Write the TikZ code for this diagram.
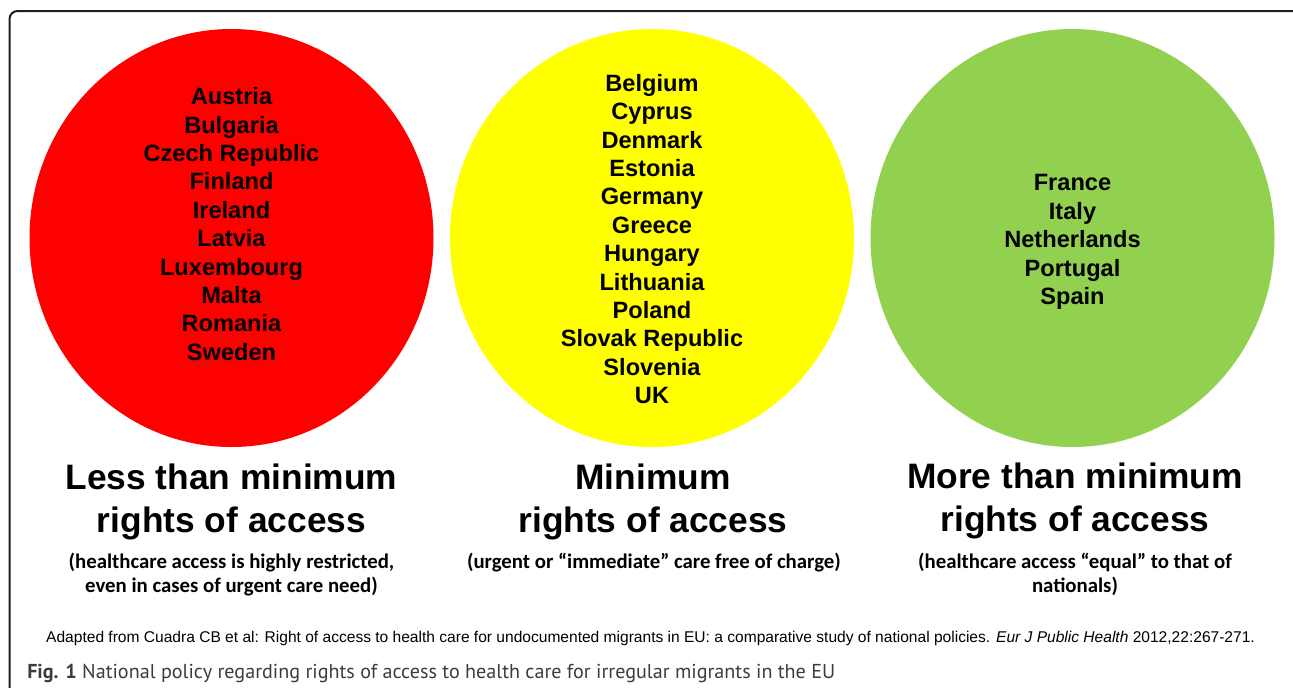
\documentclass[tikz,border=0pt]{standalone}
\usepackage{fontspec}
\setmainfont{Liberation Sans}
\newfontfamily\calib{Carlito}
\newfontfamily\figfont{PT Sans}
\definecolor{cred}{RGB}{255,0,0}
\definecolor{cyellow}{RGB}{255,255,0}
\definecolor{cgreen}{RGB}{146,208,80}
\definecolor{frameline}{RGB}{30,30,30}
\definecolor{figgray}{RGB}{60,60,60}
\begin{document}
\begin{tikzpicture}[x=0.75pt,y=-0.75pt,
  countries/.style={align=center, font=\bfseries\fontsize{17.7}{21.3}\selectfont, inner sep=0pt},
  heading/.style={align=center, font=\bfseries\fontsize{26.5}{32.3}\selectfont, inner sep=0pt},
  subtitle/.style={align=center, font=\calib\bfseries\fontsize{15.6}{18}\selectfont, inner sep=0pt},
]
\useasboundingbox (0,0) rectangle (1293,687);
\clip (0,0) rectangle (1293,687);
\draw[frameline, line width=1.5pt, rounded corners=6pt] (9.5,11) rectangle (1310,720);

\fill[cred] (231.5,238) ellipse [x radius=202, y radius=209];
\fill[cyellow] (652,238) ellipse [x radius=202, y radius=209];
\fill[cgreen] (1072.5,238) ellipse [x radius=202, y radius=209];

\node[countries] (redlist) at (231.5,224) {Austria\\Bulgaria\\Czech Republic\\Finland\\Ireland\\Latvia\\Luxembourg\\Malta\\Romania\\Sweden};
\node[countries] (yellowlist) at (652,239) {Belgium\\Cyprus\\Denmark\\Estonia\\Germany\\Greece\\Hungary\\Lithuania\\Poland\\Slovak Republic\\Slovenia\\UK};
\node[countries] (greenlist) at (1072.5,242) {France\\Italy\\Netherlands\\Portugal\\Spain};

\node[heading] (h1) at (231.5,502) {Less than minimum\\rights of access};
\node[heading] (h2) at (653,502) {Minimum\\rights of access};
\node[heading] (h3) at (1075,501) {More than minimum\\rights of access};

\node[subtitle] (s1) at (231.5,575) {(healthcare access is highly restricted,\\even in cases of urgent care need)};
\node[subtitle] (s2) at (654,563) {(urgent or “immediate” care free of charge)};
\node[subtitle] (s3) at (1075,574) {(healthcare access “equal” to that of\\nationals)};

\node[font=\fontsize{11.67}{13}\selectfont, inner sep=0pt] (src) at (650.5,638) {Adapted from Cuadra CB et al: Right of access to health care for undocumented migrants in EU: a comparative study of national policies. \textit{Eur J Public Health} 2012,22:267-271.};
\node[anchor=west, text=figgray, font=\figfont\fontsize{15.1}{16}\selectfont, inner sep=0pt] (fig) at (27,673) {\textbf{Fig. 1} National policy regarding rights of access to health care for irregular migrants in the EU};
\end{tikzpicture}
\end{document}
